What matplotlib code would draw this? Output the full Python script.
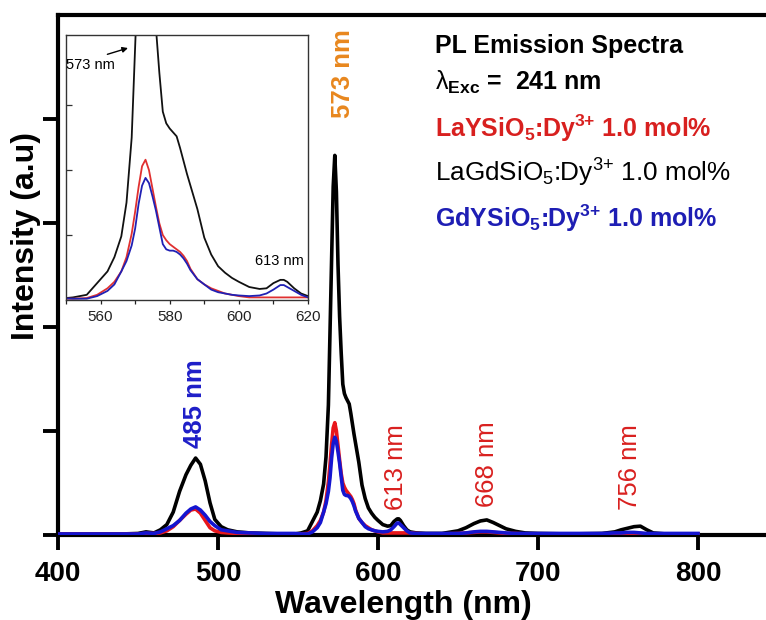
import matplotlib
matplotlib.use("Agg")
import matplotlib.pyplot as plt
from matplotlib.ticker import MultipleLocator

plt.rcParams["font.family"] = ["Liberation Sans", "DejaVu Sans"]
plt.rcParams["mathtext.fontset"] = "custom"
plt.rcParams["mathtext.rm"] = "Liberation Sans"
plt.rcParams["mathtext.it"] = "Liberation Sans:italic"
plt.rcParams["mathtext.bf"] = "Liberation Sans:bold"

# ---- emission spectra (excitation 241 nm) ----
wavelength = [400, 420, 440, 450, 455, 460, 464, 468, 472, 476, 480, 483, 486, 489,
              492, 495, 498, 502, 506, 512, 520, 530, 540, 548, 552, 556, 559, 562,
              564, 566, 567.5, 569, 570, 571, 572, 573, 574, 575, 576, 577, 578, 579,
              580, 581, 582, 583, 584, 585, 586, 588, 590, 592, 594, 596, 598, 600,
              603, 606, 608, 610, 612, 613, 614, 616, 618, 620, 624, 630, 640, 650,
              655, 660, 664, 668, 672, 676, 680, 686, 692, 700, 720, 740, 748, 752,
              756, 760, 764, 768, 772, 780, 790, 800]

la_gd = [0.01, 0.01, 0.01, 0.015, 0.03, 0.02, 0.05, 0.10, 0.22, 0.42, 0.58, 0.67, 0.74, 0.68,
         0.52, 0.31, 0.15, 0.08, 0.05, 0.03, 0.02, 0.015, 0.01, 0.01, 0.02, 0.04, 0.13, 0.22,
         0.33, 0.49, 0.75, 1.25, 1.95, 2.65, 3.35, 3.65, 3.30, 2.60, 2.10, 1.75, 1.45, 1.36,
         1.32, 1.29, 1.26, 1.17, 1.07, 0.97, 0.88, 0.70, 0.48, 0.35, 0.26, 0.21, 0.17, 0.14,
         0.10, 0.085, 0.09, 0.13, 0.155, 0.155, 0.14, 0.09, 0.05, 0.03, 0.02, 0.015, 0.015, 0.04,
         0.07, 0.11, 0.135, 0.145, 0.12, 0.09, 0.06, 0.035, 0.02, 0.015, 0.01, 0.015, 0.03, 0.05,
         0.065, 0.08, 0.085, 0.05, 0.02, 0.01, 0.01, 0.01]

la_y = [0.01, 0.01, 0.01, 0.01, 0.015, 0.015, 0.02, 0.04, 0.08, 0.14, 0.20, 0.24, 0.25, 0.21,
        0.14, 0.07, 0.04, 0.025, 0.02, 0.015, 0.015, 0.01, 0.01, 0.01, 0.01, 0.015, 0.04, 0.09,
        0.14, 0.22, 0.33, 0.51, 0.68, 0.87, 1.03, 1.08, 1.00, 0.86, 0.72, 0.59, 0.50, 0.46,
        0.43, 0.41, 0.39, 0.37, 0.34, 0.30, 0.24, 0.16, 0.12, 0.09, 0.07, 0.05, 0.04, 0.03,
        0.02, 0.02, 0.02, 0.02, 0.02, 0.02, 0.02, 0.02, 0.02, 0.02, 0.015, 0.01, 0.01, 0.015,
        0.02, 0.025, 0.03, 0.03, 0.025, 0.02, 0.015, 0.015, 0.01, 0.01, 0.01, 0.01, 0.01, 0.015,
        0.015, 0.015, 0.015, 0.01, 0.01, 0.01, 0.01, 0.01]

gd_y = [0.01, 0.01, 0.01, 0.01, 0.02, 0.015, 0.03, 0.06, 0.09, 0.14, 0.21, 0.25, 0.27, 0.24,
        0.19, 0.13, 0.09, 0.05, 0.04, 0.025, 0.02, 0.015, 0.015, 0.015, 0.01, 0.01, 0.03, 0.07,
        0.12, 0.22, 0.30, 0.42, 0.55, 0.74, 0.88, 0.94, 0.90, 0.80, 0.69, 0.56, 0.43, 0.39,
        0.38, 0.38, 0.37, 0.35, 0.32, 0.28, 0.23, 0.16, 0.12, 0.08, 0.06, 0.05, 0.04, 0.035,
        0.03, 0.035, 0.05, 0.08, 0.115, 0.115, 0.10, 0.07, 0.04, 0.02, 0.015, 0.015, 0.015, 0.015,
        0.02, 0.03, 0.035, 0.035, 0.03, 0.025, 0.02, 0.015, 0.015, 0.015, 0.015, 0.015, 0.02, 0.02,
        0.025, 0.025, 0.02, 0.015, 0.015, 0.015, 0.015, 0.015]

x_ticks = [400, 500, 600, 700, 800]
y_ticks = [0, 1, 2, 3, 4]
inset_x_ticks = [560, 580, 600, 620]

# peak labels: (text, wavelength, bottom of label in intensity units, colour, weight)
peak_labels = [
    ("485 nm", 485.6, 0.84, "#1E1EC8", "bold"),
    ("573 nm", 578.1, 4.01, "#E8871E", "bold"),
    ("613 nm", 611.3, 0.24, "#D9201F", "normal"),
    ("668 nm", 668.4, 0.27, "#D9201F", "normal"),
    ("756 nm", 757.5, 0.24, "#D9201F", "normal"),
]

C_BLACK = "#000000"
C_RED = "#E8161B"
C_BLUE = "#1515D0"

fig = plt.figure(figsize=(7.66, 6.2), dpi=100)
W, H = 766.0, 620.0

# ---- main axes ----
ax = fig.add_axes([58 / W, 85 / H, 720 / W, 520 / H])
ax.plot(wavelength, la_gd, color=C_BLACK, lw=2.6, zorder=3)
ax.plot(wavelength, la_y, color=C_RED, lw=2.6, zorder=4)
ax.plot(wavelength, gd_y, color=C_BLUE, lw=2.6, zorder=5)
ax.set_xlim(400, 850)
ax.set_ylim(0, 5)
ax.set_xticks(x_ticks)
ax.set_yticks(y_ticks)
ax.set_yticklabels([])
for s in ("left", "top", "bottom"):
    ax.spines[s].set_linewidth(3)
ax.spines["right"].set_visible(False)
ax.tick_params(axis="both", direction="out", length=11, width=2.8)
ax.tick_params(axis="x", labelsize=20, pad=8)
for lab in ax.get_xticklabels():
    lab.set_fontweight("bold")

for txt, wl, yb, col, wt in peak_labels:
    ax.text(wl, yb, txt, rotation=90, ha="center", va="bottom",
            fontsize=18.5, color=col, fontweight=wt, zorder=6)

fig.text(403 / W, 1 - 613 / H, "Wavelength (nm)", ha="center", va="baseline",
         fontsize=23, fontweight="bold")
fig.text(34 / W, 1 - 236 / H, "Intensity (a.u)", rotation=90, rotation_mode="anchor",
         ha="center", va="baseline", fontsize=23, fontweight="bold")

# ---- sample key ----
kx = 435 / W
sup = r"$^{\mathbf{3}\mathbf{+}}$"
sup_rm = r"$^{\mathrm{3}\mathrm{+}}$"
fig.text(kx, 1 - 53 / H, "PL Emission Spectra", fontsize=18, fontweight="bold",
         va="baseline")
fig.text(kx, 1 - 90 / H, r"$\mathrm{\lambda}_{\mathbf{Exc}}$ =  241 nm", fontsize=18,
         fontweight="bold", va="baseline")
fig.text(kx, 1 - 137 / H, r"LaYSiO$_{\mathbf{5}}$:Dy" + sup + " 1.0 mol%",
         fontsize=18, fontweight="bold", color="#D8201F", va="baseline")
fig.text(kx, 1 - 182 / H, r"LaGdSiO$_{5}$:Dy" + sup_rm + " 1.0 mol%",
         fontsize=18.8, color="#000000", va="baseline")
fig.text(kx, 1 - 227 / H, r"GdYSiO$_{\mathbf{5}}$:Dy" + sup + " 1.0 mol%",
         fontsize=18, fontweight="bold", color="#1E1EB4", va="baseline")

# ---- inset: zoom on the 573 nm band ----
ins = fig.add_axes([66 / W, 320 / H, 242 / W, 265 / H])
ins.plot(wavelength, la_gd, color="#111111", lw=1.3)
ins.plot(wavelength, la_y, color="#E03030", lw=1.3)
ins.plot(wavelength, gd_y, color="#2020B4", lw=1.3)
ins.set_xlim(550, 620)
ins.set_ylim(0, 2.04)
ins.set_xticks(inset_x_ticks)
ins.xaxis.set_minor_locator(MultipleLocator(10))
ins.set_yticks([0.5, 1.0, 1.5])
ins.set_yticklabels([])
for s in ins.spines.values():
    s.set_linewidth(1.0)
    s.set_color("#333333")
ins.tick_params(axis="x", which="both", direction="out", length=3, width=0.9,
                labelsize=11, pad=4, colors="#222222")
ins.tick_params(axis="y", direction="in", length=4, width=0.9, colors="#333333")

ins.text(557.2, 1.81, "573 nm", ha="center", va="center", fontsize=10.5)
ins.annotate("", xy=(568.7, 1.946), xytext=(561.2, 1.885),
             arrowprops=dict(arrowstyle="-|>", lw=1.0, color="k", mutation_scale=8))
ins.text(611.8, 0.30, "613 nm", ha="center", va="center", fontsize=10.5)

fig.savefig("out.png", dpi=100)
